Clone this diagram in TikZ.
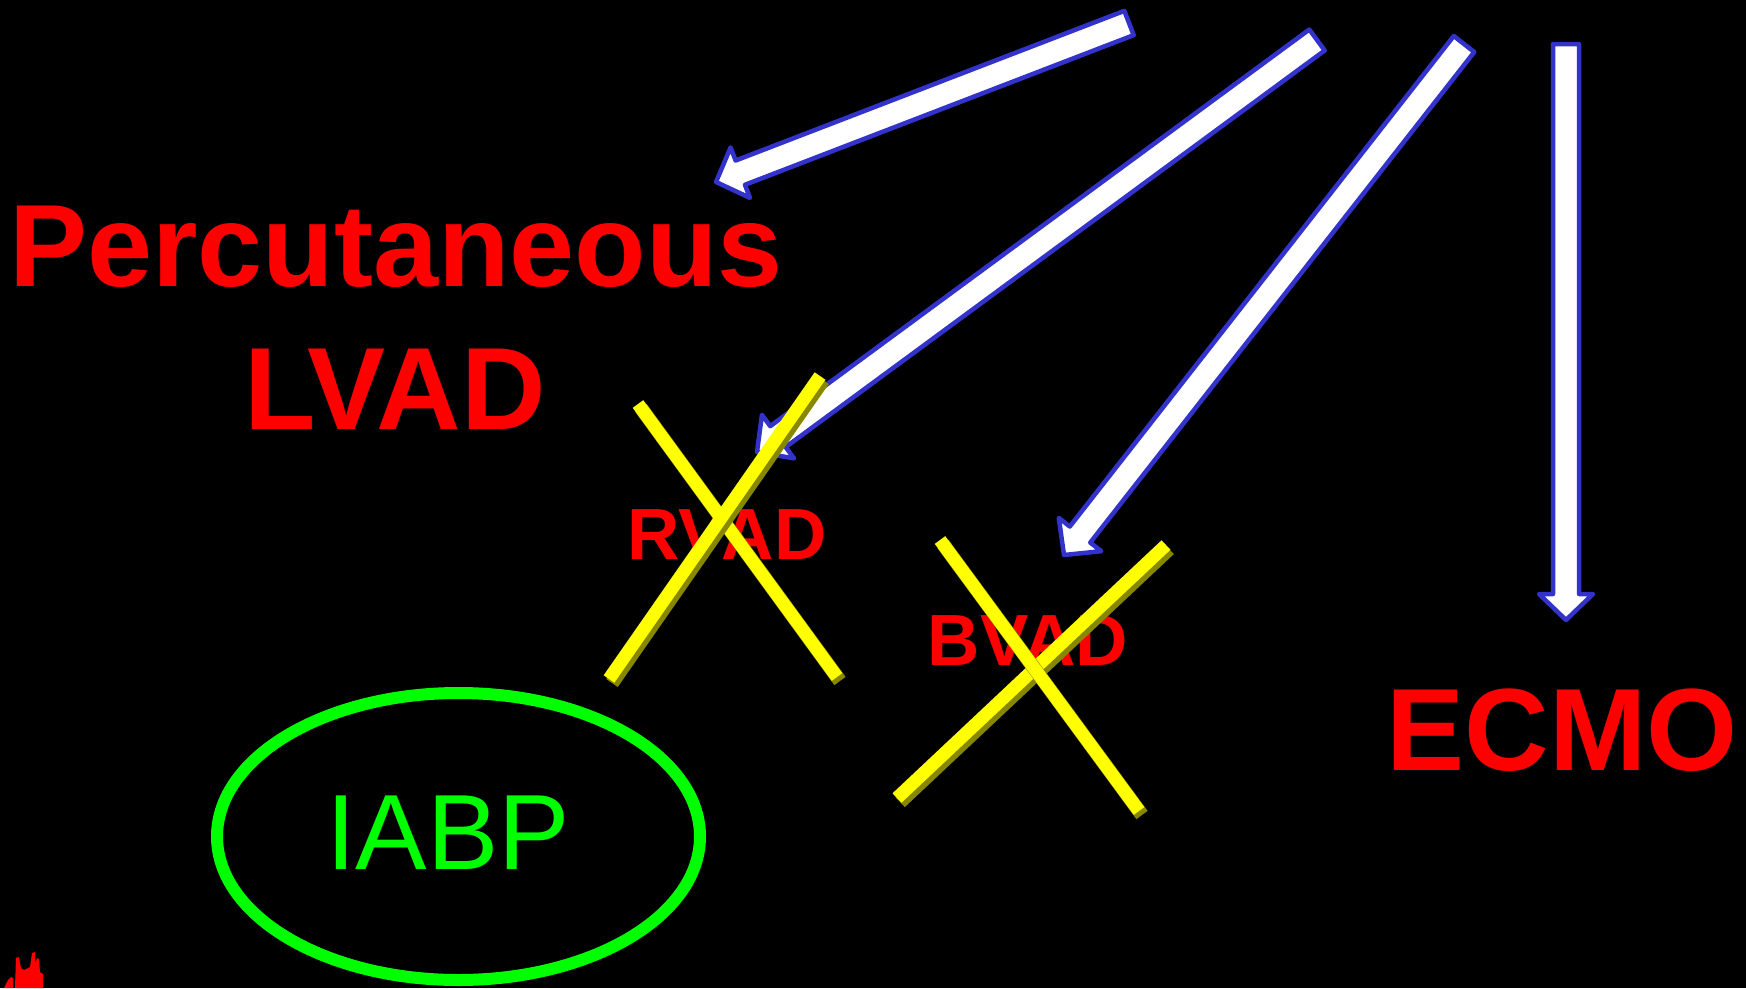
\documentclass[tikz,border=0pt]{standalone}
\usepackage{fontspec}
\setmainfont{Liberation Sans}
\usetikzlibrary{calc}
\definecolor{arrblue}{RGB}{51,51,204}
\definecolor{barolive}{RGB}{135,135,0}
\definecolor{baryellow}{RGB}{255,255,0}
\definecolor{ired}{RGB}{255,0,0}
\definecolor{igreen}{RGB}{0,255,0}
\tikzset{
  blockarr/.style={draw=arrblue, fill=white, line width=4.5bp, line join=round},
  redbig/.style={text=ired, inner sep=0pt, anchor=base, font=\fontsize{117bp}{140bp}\selectfont\bfseries},
  redsmall/.style={text=ired, inner sep=0pt, anchor=base, font=\fontsize{72.5bp}{90bp}\selectfont\bfseries},
  greentext/.style={text=igreen, inner sep=0pt, anchor=base, font=\fontsize{107bp}{128bp}\selectfont},
  greenring/.style={draw=igreen, line width=12bp},
  barshade/.style={draw=barolive, line width=14bp, line cap=butt},
  bartop/.style={draw=baryellow, line width=13bp, line cap=butt},
}
% block arrow from tail coordinate #1 to tip coordinate #2
\newcommand\blockarrow[2]{%
  \coordinate (#1c) at ($(#2)!26bp!(#1)$);
  \draw[blockarr] ($(#1)!13bp!90:(#2)$) -- ($(#1c)!13bp!90:(#2)$) -- ($(#1c)!27bp!90:(#2)$)
     -- (#2) -- ($(#1c)!27bp!-90:(#2)$) -- ($(#1c)!13bp!-90:(#2)$) -- ($(#1)!13bp!-90:(#2)$) -- cycle;}
% yellow bar with a dark side, from coordinate #1 to coordinate #2
\newcommand\yellowbar[2]{%
  \draw[barshade] ([shift={(3,4)}]#1) -- ([shift={(3,4)}]#2);
  \draw[bartop] (#1) -- (#2);}
\begin{document}
\begin{tikzpicture}[x=1bp,y=-1bp]
\fill[black] (0,0) rectangle (1746,988);
\useasboundingbox (0,0) rectangle (1746,988);

% texts
\node[redbig] (pct) at (396,286) {Percutaneous};
\node[redbig] (lvad) at (395,429) {LVAD};
\node[redsmall] (rvad) at (727,559) {RVAD};
\node[redsmall] (bvad) at (1028,665) {BVAD};
\node[redbig] (ecmo) at (1562,770) {ECMO};

% IABP
\draw[greenring] (458.5,836.5) ellipse [x radius=241.5, y radius=143.5];
\node[greentext] (iabp) at (448,869) {IABP};

% arrows
\coordinate (a1t) at (1129,23);   \coordinate (a1h) at (716,182);
\coordinate (a2t) at (1317,40);   \coordinate (a2h) at (757,452);
\coordinate (a3t) at (1464,44);   \coordinate (a3h) at (1064,555);
\coordinate (a4t) at (1566,44);   \coordinate (a4h) at (1566,620);
\blockarrow{a1t}{a1h}
\blockarrow{a2t}{a2h}
\blockarrow{a3t}{a3h}
\blockarrow{a4t}{a4h}

% crosses
\coordinate (x1a) at (638,404);  \coordinate (x1b) at (837,677);
\coordinate (x1c) at (820,376);  \coordinate (x1d) at (609,679);
\coordinate (x2a) at (940,540);  \coordinate (x2b) at (1139,811);
\coordinate (x2c) at (1166,545); \coordinate (x2d) at (897,798);
\yellowbar{x1a}{x1b}
\yellowbar{x1c}{x1d}
\yellowbar{x2c}{x2d}
\yellowbar{x2a}{x2b}

% small red mark, bottom left
\fill[ired] (4,988) -- (8,980) -- (11,977) -- (13,978) -- (13,988) -- cycle;
\fill[ired] (15,988) -- (16,958) -- (19,957) -- (21,968) -- (24,970) -- (30,967) -- (32,953)
  -- (35,952) -- (35,964) -- (37,958) -- (39,959) -- (40,972) -- (43,974) -- (43,988) -- cycle;
\end{tikzpicture}
\end{document}
